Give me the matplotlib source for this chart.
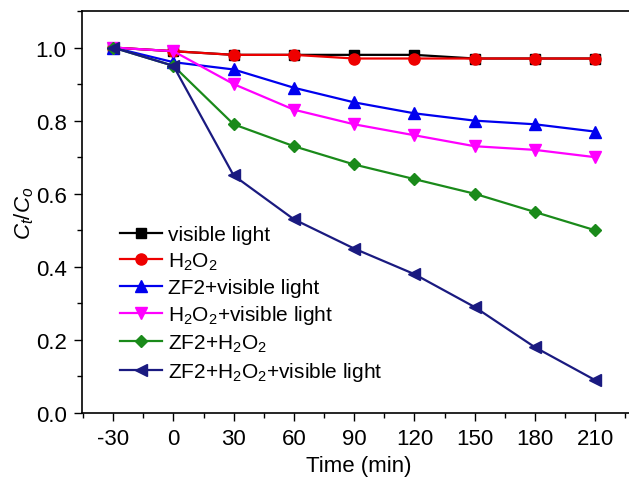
import matplotlib
matplotlib.use('Agg')
import matplotlib.pyplot as plt
from matplotlib.ticker import MultipleLocator

plt.rcParams['font.family'] = 'Liberation Sans'
plt.rcParams['mathtext.fontset'] = 'custom'
plt.rcParams['mathtext.rm'] = 'Liberation Sans'
plt.rcParams['mathtext.it'] = 'Liberation Sans:italic'
plt.rcParams['axes.unicode_minus'] = False

time = [-30, 0, 30, 60, 90, 120, 150, 180, 210]
visible = [1.0, 0.99, 0.98, 0.98, 0.98, 0.98, 0.97, 0.97, 0.97]
h2o2 = [1.0, 0.99, 0.98, 0.98, 0.97, 0.97, 0.97, 0.97, 0.97]
zf2_vis = [1.0, 0.96, 0.94, 0.89, 0.85, 0.82, 0.80, 0.79, 0.77]
h2o2_vis = [1.0, 0.99, 0.90, 0.83, 0.79, 0.76, 0.73, 0.72, 0.70]
zf2_h2o2 = [1.0, 0.95, 0.79, 0.73, 0.68, 0.64, 0.60, 0.55, 0.50]
zf2_h2o2_vis = [1.0, 0.95, 0.65, 0.53, 0.45, 0.38, 0.29, 0.18, 0.09]

labels = ['visible light', r'H$_2$O$_2$', 'ZF2+visible light',
          r'H$_2$O$_2$+visible light', r'ZF2+H$_2$O$_2$',
          r'ZF2+H$_2$O$_2$+visible light']
series = [visible, h2o2, zf2_vis, h2o2_vis, zf2_h2o2, zf2_h2o2_vis]
colors = ['black', '#ee0000', '#0000ee', '#ff00ff', '#1a8a1a', '#1a1a80']
markers = ['s', 'o', '^', 'v', 'D', '<']
msizes = [7, 8, 8, 8, 6.5, 8]

fig = plt.figure(figsize=(6.29, 4.81), dpi=100)
ax = fig.add_axes([82/629, 67/481, 1 - 82/629 + 0.01, 402/481])

for y, lab, c, m, ms in zip(series, labels, colors, markers, msizes):
    ax.plot(time, y, color=c, marker=m, markersize=ms, linewidth=1.6, label=lab)

ax.set_xlim(-45.5, 230)
ax.set_ylim(0, 1.1)
ax.set_xticks(time)
ax.set_xticklabels([str(t) for t in time])
ax.xaxis.set_minor_locator(MultipleLocator(15))
ax.yaxis.set_major_locator(MultipleLocator(0.2))
ax.yaxis.set_minor_locator(MultipleLocator(0.1))
ax.set_yticks([0, 0.2, 0.4, 0.6, 0.8, 1.0])
ax.set_yticklabels(['0.0', '0.2', '0.4', '0.6', '0.8', '1.0'])
ax.tick_params(which='major', direction='out', length=6, width=1, labelsize=16, pad=5)
ax.tick_params(which='minor', direction='out', length=3.5, width=1)
ax.spines['right'].set_visible(False)
for s in ['left', 'bottom', 'top']:
    ax.spines[s].set_linewidth(1.2)

ax.set_xlabel('Time (min)', fontsize=16, labelpad=4)
ax.set_ylabel(r'$\mathit{C}_t/\mathit{C}_o$', fontsize=16, labelpad=0)

ax.legend(loc='lower left', bbox_to_anchor=(0.035, 0.028), frameon=False,
          fontsize=15, handlelength=2.0, handletextpad=0.3, labelspacing=0.3)

fig.savefig('out.png', dpi=100)
